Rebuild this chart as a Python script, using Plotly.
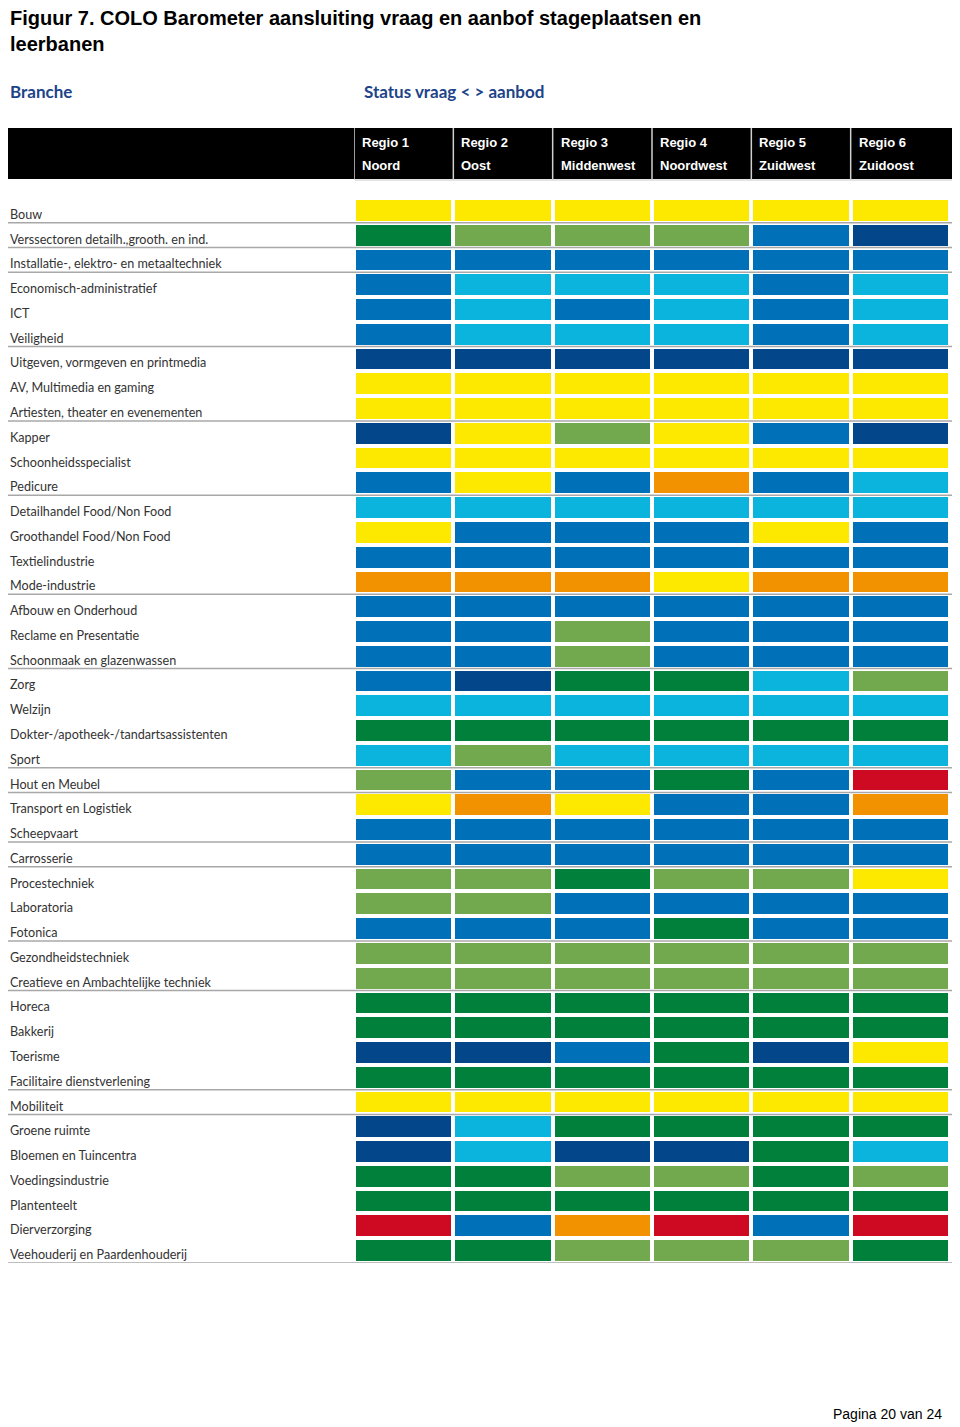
import plotly.graph_objects as go

# ---------------- data ----------------
title_text = "Figuur 7. COLO Barometer aansluiting vraag en aanbof stageplaatsen en<br>leerbanen"
branche_label = "Branche"
status_label = "Status vraag < > aanbod"
footer_text = "Pagina 20 van 24"

regio_nr = ["Regio 1", "Regio 2", "Regio 3", "Regio 4", "Regio 5", "Regio 6"]
regio_naam = ["Noord", "Oost", "Middenwest", "Noordwest", "Zuidwest", "Zuidoost"]

branches = [
    "Bouw",
    "Verssectoren detailh.,grooth. en ind.",
    "Installatie-, elektro- en metaaltechniek",
    "Economisch-administratief",
    "ICT",
    "Veiligheid",
    "Uitgeven, vormgeven en printmedia",
    "AV, Multimedia en gaming",
    "Artiesten, theater en evenementen",
    "Kapper",
    "Schoonheidsspecialist",
    "Pedicure",
    "Detailhandel Food/Non Food",
    "Groothandel Food/Non Food",
    "Textielindustrie",
    "Mode-industrie",
    "Afbouw en Onderhoud",
    "Reclame en Presentatie",
    "Schoonmaak en glazenwassen",
    "Zorg",
    "Welzijn",
    "Dokter-/apotheek-/tandartsassistenten",
    "Sport",
    "Hout en Meubel",
    "Transport en Logistiek",
    "Scheepvaart",
    "Carrosserie",
    "Procestechniek",
    "Laboratoria",
    "Fotonica",
    "Gezondheidstechniek",
    "Creatieve en Ambachtelijke techniek",
    "Horeca",
    "Bakkerij",
    "Toerisme",
    "Facilitaire dienstverlening",
    "Mobiliteit",
    "Groene ruimte",
    "Bloemen en Tuincentra",
    "Voedingsindustrie",
    "Plantenteelt",
    "Dierverzorging",
    "Veehouderij en Paardenhouderij",
]

# status per branche per regio (Regio 1..6)
# R = rood, O = oranje, Y = geel, LG = lichtgroen, DG = donkergroen,
# C = lichtblauw, B = blauw, DB = donkerblauw
status = [
    ["Y", "Y", "Y", "Y", "Y", "Y"],
    ["DG", "LG", "LG", "LG", "B", "DB"],
    ["B", "B", "B", "B", "B", "B"],
    ["B", "C", "C", "C", "B", "C"],
    ["B", "C", "B", "C", "B", "C"],
    ["B", "C", "C", "C", "B", "C"],
    ["DB", "DB", "DB", "DB", "DB", "DB"],
    ["Y", "Y", "Y", "Y", "Y", "Y"],
    ["Y", "Y", "Y", "Y", "Y", "Y"],
    ["DB", "Y", "LG", "Y", "B", "DB"],
    ["Y", "Y", "Y", "Y", "Y", "Y"],
    ["B", "Y", "B", "O", "B", "C"],
    ["C", "C", "C", "C", "C", "C"],
    ["Y", "B", "B", "B", "Y", "B"],
    ["B", "B", "B", "B", "B", "B"],
    ["O", "O", "O", "Y", "O", "O"],
    ["B", "B", "B", "B", "B", "B"],
    ["B", "B", "LG", "B", "B", "B"],
    ["B", "B", "LG", "B", "B", "B"],
    ["B", "DB", "DG", "DG", "C", "LG"],
    ["C", "C", "C", "C", "C", "C"],
    ["DG", "DG", "DG", "DG", "DG", "DG"],
    ["C", "LG", "C", "C", "C", "C"],
    ["LG", "B", "B", "DG", "B", "R"],
    ["Y", "O", "Y", "B", "B", "O"],
    ["B", "B", "B", "B", "B", "B"],
    ["B", "B", "B", "B", "B", "B"],
    ["LG", "LG", "DG", "LG", "LG", "Y"],
    ["LG", "LG", "B", "B", "B", "B"],
    ["B", "B", "B", "DG", "B", "B"],
    ["LG", "LG", "LG", "LG", "LG", "LG"],
    ["LG", "LG", "LG", "LG", "LG", "LG"],
    ["DG", "DG", "DG", "DG", "DG", "DG"],
    ["DG", "DG", "DG", "DG", "DG", "DG"],
    ["DB", "DB", "B", "DG", "DB", "Y"],
    ["DG", "DG", "DG", "DG", "DG", "DG"],
    ["Y", "Y", "Y", "Y", "Y", "Y"],
    ["DB", "C", "DG", "DG", "DG", "DG"],
    ["DB", "C", "DB", "DB", "DG", "C"],
    ["DG", "DG", "LG", "LG", "DG", "LG"],
    ["DG", "DG", "DG", "DG", "DG", "DG"],
    ["R", "B", "O", "R", "B", "R"],
    ["DG", "DG", "LG", "LG", "LG", "DG"],
]

# branches after which a grey group line is drawn
group_ends = [
    "Bouw", "Verssectoren detailh.,grooth. en ind.",
    "Installatie-, elektro- en metaaltechniek", "Veiligheid",
    "Artiesten, theater en evenementen", "Pedicure", "Mode-industrie",
    "Schoonmaak en glazenwassen", "Sport", "Hout en Meubel", "Scheepvaart",
    "Carrosserie", "Fotonica", "Creatieve en Ambachtelijke techniek",
    "Facilitaire dienstverlening", "Mobiliteit", "Veehouderij en Paardenhouderij",
]

status_codes = ["R", "O", "Y", "LG", "DG", "C", "B", "DB"]
status_colors = ["#CD0A22", "#F39200", "#FDE800", "#72A84E",
                 "#00803A", "#0BB4DC", "#0070B8", "#03468A"]

# ---------------- geometry (page pixel coords; the page body adds 8px margin) ----------------
W, H = 960, 1427
OFF = 8                # default body margin of the html page
PL, PR = 354, 950      # plot area x in page px
PT, PB = 198, 1263     # plot area y in page px


def px(xp):
    return (xp - PL) / (PR - PL)


def py(yp):
    return (PB - yp) / (PB - PT)


n_rows = len(branches)
n_cols = len(regio_nr)

idx = {c: i for i, c in enumerate(status_codes)}
z = [[idx[s] for s in row] for row in status]

ncat = len(status_codes)
colorscale = []
for k, c in enumerate(status_colors):
    colorscale.append([k / ncat, c])
    colorscale.append([(k + 1) / ncat, c])

fig = go.Figure(go.Heatmap(
    z=z,
    x=list(range(n_cols)),
    y=list(range(n_rows)),
    zmin=-0.5, zmax=ncat - 0.5,
    colorscale=colorscale,
    showscale=False,
    xgap=4, ygap=4,
    hoverinfo="skip",
))

shapes = []
annotations = []

# header black bar
shapes.append(dict(type="rect", xref="paper", yref="paper",
                   x0=px(8), x1=px(958), y0=py(179), y1=py(128),
                   fillcolor="#000000", line=dict(width=0), layer="below"))
shapes.append(dict(type="line", xref="paper", yref="paper",
                   x0=px(355), x1=px(958), y0=py(180), y1=py(180),
                   line=dict(color="#c8c8c8", width=1)))
hdr_font = dict(family="Liberation Sans Narrow, Liberation Sans", size=13, color="white")
for c in range(n_cols):
    xc = c - 0.5
    shapes.append(dict(type="line", xref="x", yref="paper",
                       x0=xc, x1=xc, y0=py(180), y1=py(128),
                       line=dict(color="#d0d0d0", width=1.5)))
    annotations.append(dict(xref="x", yref="paper", x=xc, xshift=6, y=py(142),
                            text="<b>" + regio_nr[c] + "</b>", showarrow=False,
                            xanchor="left", yanchor="middle", font=hdr_font))
    annotations.append(dict(xref="x", yref="paper", x=xc, xshift=6, y=py(166),
                            text="<b>" + regio_naam[c] + "</b>", showarrow=False,
                            xanchor="left", yanchor="middle", font=hdr_font))

# group separator lines
for name in group_ends:
    r = branches.index(name)
    shapes.append(dict(type="line", xref="paper", yref="y",
                       x0=px(8), x1=px(958), y0=r + 0.5, y1=r + 0.5,
                       line=dict(color="#a8a8a8", width=1.5), layer="below"))

# row labels
for r, name in enumerate(branches):
    annotations.append(dict(xref="paper", yref="y", x=px(8), y=r, yshift=-4,
                            text=name, showarrow=False, xanchor="left", yanchor="middle",
                            font=dict(family="Lato, Open Sans, sans-serif", size=12.6, color="#333333")))

# titles
annotations.append(dict(xref="paper", yref="paper", x=px(8), y=py(5), text=title_text,
                        showarrow=False, xanchor="left", yanchor="top", align="left",
                        font=dict(family="Liberation Sans, Arial", size=20, color="black", weight="bold")))
annotations.append(dict(xref="paper", yref="paper", x=px(8), y=py(91), text="<b>" + branche_label + "</b>",
                        showarrow=False, xanchor="left", yanchor="middle",
                        font=dict(family="Lato, Open Sans", size=17, color="#1d4488")))
annotations.append(dict(xref="paper", yref="paper", x=px(362), y=py(91), text="<b>" + status_label + "</b>",
                        showarrow=False, xanchor="left", yanchor="middle",
                        font=dict(family="Lato, Open Sans", size=17, color="#1d4488")))
annotations.append(dict(xref="paper", yref="paper", x=px(944), y=py(1414), text=footer_text,
                        showarrow=False, xanchor="right", yanchor="middle",
                        font=dict(family="Liberation Sans, Arial", size=14, color="black")))

fig.update_layout(
    width=W - OFF, height=H - OFF,
    margin=dict(l=PL - OFF, r=W - PR, t=PT - OFF, b=H - PB, pad=0),
    paper_bgcolor="white", plot_bgcolor="white",
    xaxis=dict(range=[-0.5, n_cols - 0.5], showticklabels=False, showgrid=False,
               zeroline=False, fixedrange=True),
    yaxis=dict(range=[n_rows - 0.5, -0.5], showticklabels=False, showgrid=False,
               zeroline=False, fixedrange=True),
    shapes=shapes,
    annotations=annotations,
)

fig.write_html("out.html")
